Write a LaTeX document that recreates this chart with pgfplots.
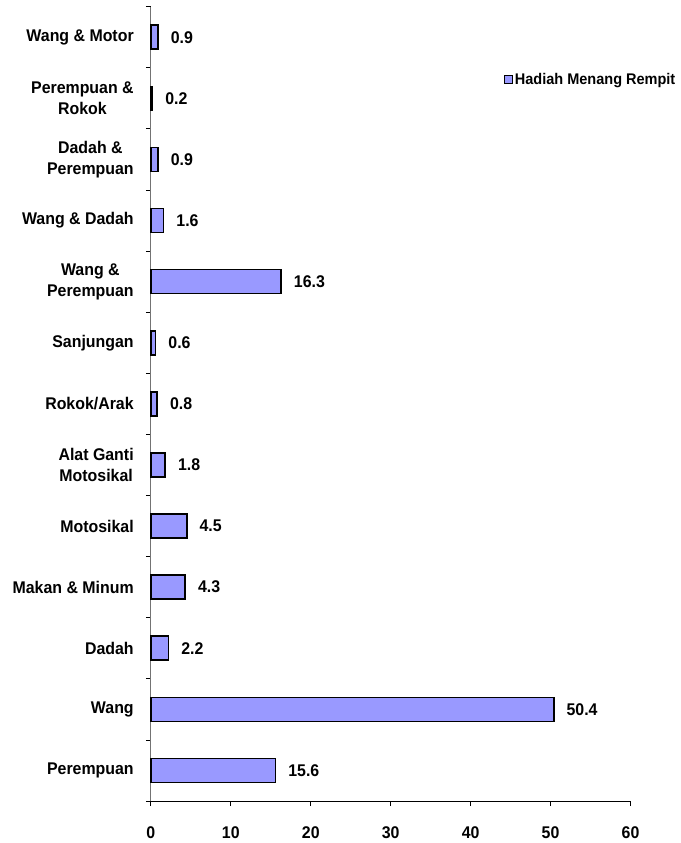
\documentclass[border=0pt]{standalone}
\usepackage{fontspec}
\setmainfont[FakeStretch=0.94]{Liberation Sans}
\usepackage{pgfplots}
\pgfplotsset{compat=1.18}
\definecolor{barfill}{HTML}{9999FF}
\begin{document}
\begin{tikzpicture}
\begin{axis}[
  name=ax,
  scale only axis,
  x=8bp, y=61.15bp,
  xbar, bar width=24bp,
  xmin=0, xmax=60, ymin=-0.5, ymax=12.5,
  xtick={0,10,...,60},
  ytick={0,...,12},
  minor ytick={-0.5,0.5,...,12.5},
  yticklabels={Perempuan, Wang, Dadah, Makan \& Minum, Motosikal, {Alat Ganti\\Motosikal}, Rokok/Arak, Sanjungan, {Wang \&\\Perempuan}, Wang \& Dadah, {Dadah \&\\Perempuan}, {Perempuan \&\\Rokok}, Wang \& Motor},
  axis x line*=bottom, axis y line*=left,
  x axis line style={-, draw=black, line width=0.9bp},
  y axis line style={-, draw=black!55, line width=0.9bp},
  tick align=outside,
  major tick length=5bp, minor tick length=5bp,
  major y tick style={draw=none},
  minor y tick style={draw=black, line width=0.8bp},
  major x tick style={draw=black, line width=0.8bp},
  /pgf/number format/assume math mode=true,
  ticklabel style={font=\bfseries\fontsize{17}{21.5}\selectfont},
  yticklabel style={align=center, inner sep=0pt, xshift=-12bp},
  xticklabel style={inner sep=0pt, yshift=-20bp},
  nodes near coords={\pgfmathprintnumber[fixed,fixed zerofill,precision=1,assume math mode=true]{\pgfplotspointmeta}},
  nodes near coords style={font=\bfseries\fontsize{17}{20}\selectfont, anchor=west, inner sep=0pt, xshift=12bp},
  legend style={at={(1.098,0.908)}, anchor=east, draw=none, fill=none, inner sep=0pt,
    font=\bfseries\fontsize{15.5}{18}\selectfont},
  legend cell align=left,
  legend image code/.code={\draw[fill=barfill, draw=black, line width=1.2bp] (0bp,-4bp) rectangle (8bp,4bp);},
  clip=false,
]
\addplot[fill=barfill, draw=black, line width=1.6bp] coordinates {
  (15.6,0) (50.4,1) (2.2,2) (4.3,3) (4.5,4) (1.8,5) (0.8,6) (0.6,7) (16.3,8) (1.6,9) (0.9,10) (0.2,11) (0.9,12)
};
\addlegendentry{Hadiah Menang Rempit}
\end{axis}
\pgfresetboundingbox
\path ([shift={(-151bp,-42bp)}]ax.south west) rectangle ([shift={(50bp,6.7bp)}]ax.north east);
\end{tikzpicture}
\end{document}
